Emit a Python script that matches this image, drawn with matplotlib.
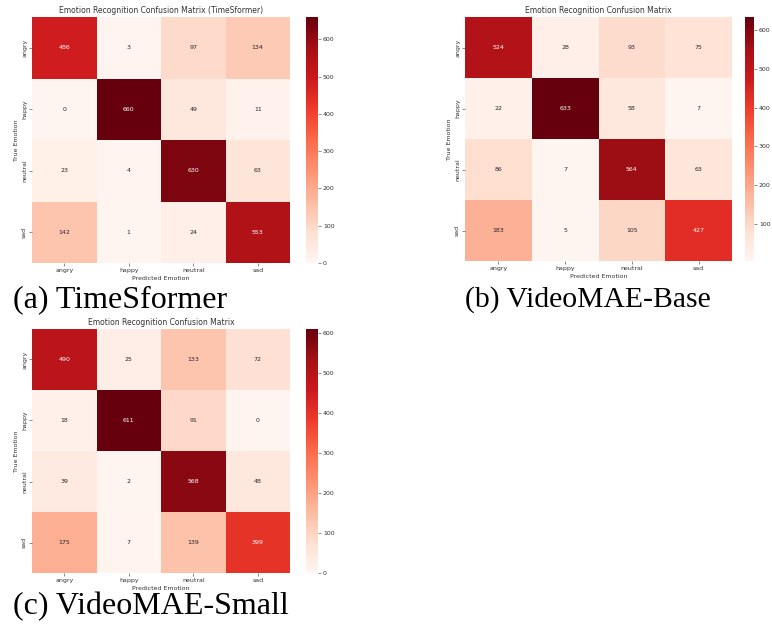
import numpy as np
import matplotlib
matplotlib.use('Agg')
import matplotlib.pyplot as plt
import seaborn as sns

emotions = ['angry', 'happy', 'neutral', 'sad']

# confusion matrices (rows = true, cols = predicted)
cm_timesformer = [[486, 3, 97, 134],
                  [0, 660, 49, 11],
                  [23, 4, 630, 63],
                  [142, 1, 24, 553]]
cm_base = [[524, 28, 93, 75],
           [22, 633, 58, 7],
           [86, 7, 564, 63],
           [183, 5, 105, 427]]
cm_small = [[490, 25, 133, 72],
            [18, 611, 91, 0],
            [39, 2, 568, 48],
            [175, 7, 139, 399]]

titles = ['Emotion Recognition Confusion Matrix (TimeSformer)',
          'Emotion Recognition Confusion Matrix',
          'Emotion Recognition Confusion Matrix']
captions = ['(a) TimeSformer', '(b) VideoMAE-Base', '(c) VideoMAE-Small']

W, H = 772, 626
fig = plt.figure(figsize=(W / 100, H / 100), dpi=100)


def px(x0, y0, x1, y1):
    # pixel box -> figure fraction rect
    return [x0 / W, 1 - y1 / H, (x1 - x0) / W, (y1 - y0) / H]


# heatmap box, colorbar box, caption position, caption size
panels = [
    ((32, 17, 290, 263), (306, 17, 318, 263), (13, 300), 23),
    ((465, 17, 732, 261), (745, 17, 754, 261), (465, 300), 21.3),
    ((32, 329, 290, 573), (306, 329, 318, 573), (13, 607), 23),
]

for cm, title, cap, (hb, cb, cp, fs) in zip([cm_timesformer, cm_base, cm_small], titles, captions, panels):
    ax = fig.add_axes(px(*hb))
    cax = fig.add_axes(px(*cb))
    sns.heatmap(np.array(cm), annot=True, fmt='d', cmap='Reds', ax=ax, cbar_ax=cax,
                xticklabels=emotions, yticklabels=emotions,
                annot_kws={'size': 4.5})
    ax.set_title(title, fontsize=5.5, pad=3, color='#333333')
    ax.set_xlabel('Predicted Emotion', fontsize=4.5, labelpad=2, color='#333333')
    ax.set_ylabel('True Emotion', fontsize=4.5, labelpad=2, color='#333333')
    ax.tick_params(labelsize=4.5, length=2, width=0.4, pad=1.5, colors='#333333')
    plt.setp(ax.get_yticklabels(), rotation=90, va='center')
    plt.setp(ax.get_xticklabels(), rotation=0)
    cax.tick_params(labelsize=4.5, length=2, width=0.4, pad=1.5, colors='#333333')
    fig.text(cp[0] / W, 1 - cp[1] / H, cap, family='Liberation Serif',
             fontsize=fs, va='center', ha='left')

plt.savefig('out.png', dpi=100)
